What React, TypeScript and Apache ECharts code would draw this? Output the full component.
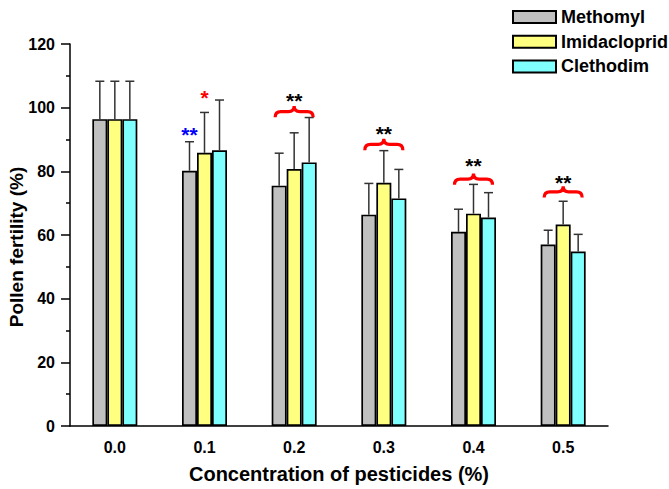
import React, { useEffect, useRef } from "react";
import * as echarts from "echarts";

const categories = ["0.0", "0.1", "0.2", "0.3", "0.4", "0.5"];
const seriesNames = ["Methomyl", "Imidacloprid", "Clethodim"];
const seriesColors = ["#C0C0C0", "#FFFF80", "#80FFFF"];

const methomyl = [96.4, 80.2, 75.5, 66.4, 61.0, 57.0];
const methomylSD = [11.9, 9.1, 10.2, 9.8, 7.1, 4.5];
const imidacloprid = [96.4, 85.8, 80.7, 76.4, 66.7, 63.3];
const imidaclopridSD = [11.9, 12.7, 11.4, 10.1, 9.2, 7.3];
const clethodim = [96.4, 86.6, 82.8, 71.5, 65.5, 54.8];
const clethodimSD = [11.9, 15.8, 14.1, 9.1, 7.8, 5.4];

const starCategory = [1, 1, 2, 3, 4, 5];
const starBar = [0, 1, 1, 1, 1, 1];
const starValue = [92.7, 104.5, 103.6, 93.0, 83.0, 77.7];
const starText = ["**", "*", "**", "**", "**", "**"];
const starColor = ["#0000FF", "#FF0000", "#000000", "#000000", "#000000", "#000000"];

const braceCategory = [2, 3, 4, 5];
const braceValue = [96.7, 86.4, 75.5, 71.5];

const yAxisTitle = "Pollen fertility (%)";
const xAxisTitle = "Concentration of pesticides (%)";

const BAR_W = 15;
const FONT = "'Liberation Sans', Arial, Helvetica, sans-serif";
const BRACE_PATH =
  "M0,12 Q0,6 6,6 L14,6 Q20,6 20,0 Q20,6 26,6 L34,6 Q40,6 40,12";

export default function App() {
  const ref = useRef<HTMLDivElement>(null);

  useEffect(() => {
    if (!ref.current) return;
    document.body.style.margin = "0";
    const chart = echarts.init(ref.current, undefined, { renderer: "svg" });

    const values = [methomyl, imidacloprid, clethodim];
    const sds = [methomylSD, imidaclopridSD, clethodimSD];

    const errData: number[][] = [];
    values.forEach((arr, s) => {
      arr.forEach((v, i) => {
        errData.push([i, v + sds[s][i], v, sds[s][i], s]);
      });
    });

    const starData = starCategory.map((c, i) => [c, starValue[i], starBar[i]]);
    const braceData = braceCategory.map((c, i) => [c, braceValue[i]]);

    const barSeries = seriesNames.map((name, s) => ({
      name,
      type: "bar",
      data: values[s],
      barWidth: BAR_W,
      barGap: "0%",
      itemStyle: {
        color: seriesColors[s],
        borderColor: "#000",
        borderWidth: 1.7,
      },
      z: 2,
    }));

    const option: any = {
      animation: false,
      backgroundColor: "#fff",
      textStyle: { fontFamily: FONT },
      grid: { left: 70, right: 61, top: 44, bottom: 59 },
      legend: {
        orient: "vertical",
        left: 512,
        top: 8,
        padding: 0,
        itemWidth: 43,
        itemHeight: 12,
        itemGap: 6.7,
        itemTextGap: 5,
        data: seriesNames,
        icon: "rect",
        textStyle: {
          fontFamily: FONT,
          fontWeight: "bold",
          fontSize: 18,
          lineHeight: 12,
          color: "#000",
        },
      },
      graphic: [
        {
          type: "text",
          x: 16,
          y: 247,
          rotation: Math.PI / 2,
          style: {
            text: yAxisTitle,
            font: `bold 19px ${FONT}`,
            fill: "#000",
            align: "center",
            verticalAlign: "middle",
          },
        },
      ],
      xAxis: [
        {
          type: "category",
          data: categories,
          position: "bottom",
          axisLine: { lineStyle: { color: "#000", width: 1.5 } },
          axisTick: {
            alignWithLabel: true,
            length: 7,
            lineStyle: { color: "#000", width: 1.5 },
          },
          axisLabel: {
            color: "#000",
            fontWeight: "bold",
            fontSize: 16,
            fontFamily: FONT,
            margin: 13,
          },
          name: xAxisTitle,
          nameLocation: "middle",
          nameGap: 38,
          nameTextStyle: {
            color: "#000",
            fontWeight: "bold",
            fontSize: 20,
            fontFamily: FONT,
          },
        },
        {
          type: "category",
          data: categories,
          position: "bottom",
          axisLine: { show: false },
          axisTick: {
            alignWithLabel: false,
            length: 4,
            lineStyle: { color: "#000", width: 1.5 },
          },
          axisLabel: { show: false },
        },
      ],
      yAxis: {
        type: "value",
        min: 0,
        max: 120,
        interval: 20,
        axisLine: { show: true, lineStyle: { color: "#000", width: 1.5 } },
        axisTick: { show: true, length: 9, lineStyle: { color: "#000", width: 1.5 } },
        minorTick: {
          show: true,
          splitNumber: 2,
          length: 4,
          lineStyle: { color: "#000", width: 1.5 },
        },
        splitLine: { show: false },
        axisLabel: {
          color: "#000",
          fontWeight: "bold",
          fontSize: 16,
          fontFamily: FONT,
          margin: 15,
        },
      },
      series: [
        ...barSeries,
        {
          type: "custom",
          name: "err",
          data: errData,
          z: 3,
          encode: { x: 0, y: 1 },
          renderItem: (params: any, api: any) => {
            const cat = api.value(0);
            const v = api.value(2);
            const sd = api.value(3);
            const s = api.value(4);
            const base = api.coord([cat, v]);
            const top = api.coord([cat, v + sd]);
            const x = base[0] + (s - 1) * BAR_W;
            const style = { stroke: "#333", lineWidth: 1.5 };
            return {
              type: "group",
              children: [
                { type: "line", shape: { x1: x, y1: base[1], x2: x, y2: top[1] }, style },
                { type: "line", shape: { x1: x - 4.5, y1: top[1], x2: x + 4.5, y2: top[1] }, style },
              ],
            };
          },
        },
        {
          type: "custom",
          name: "braces",
          data: braceData,
          z: 4,
          encode: { x: 0, y: 1 },
          renderItem: (params: any, api: any) => {
            const p = api.coord([api.value(0), api.value(1)]);
            return {
              type: "path",
              shape: { pathData: BRACE_PATH, x: p[0] - 19, y: p[1] - 13, width: 38, height: 13 },
              style: { fill: "none", stroke: "#FF0000", lineWidth: 3.2 },
            };
          },
        },
        {
          type: "custom",
          name: "stars",
          data: starData,
          z: 5,
          encode: { x: 0, y: 1 },
          renderItem: (params: any, api: any) => {
            const i = params.dataIndex;
            const p = api.coord([api.value(0), api.value(1)]);
            const x = p[0] + (api.value(2) - 1) * BAR_W;
            return {
              type: "text",
              x,
              y: p[1] + 4,
              style: {
                text: starText[i],
                fill: starColor[i],
                font: `bold 21px ${FONT}`,
                align: "center",
                verticalAlign: "middle",
              },
            };
          },
        },
      ],
    };

    chart.setOption(option);
    return () => chart.dispose();
  }, []);

  return (
    <div
      ref={ref}
      style={{ position: "absolute", left: 0, top: 0, width: 669, height: 489 }}
    />
  );
}
